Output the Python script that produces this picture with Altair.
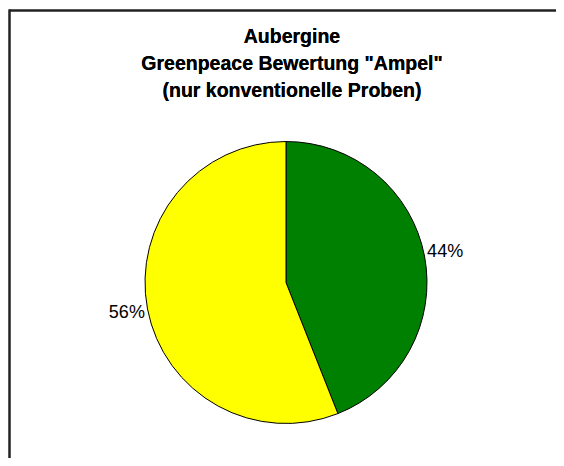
import altair as alt
import pandas as pd

# Data
kategorien = ["grün", "gelb"]
anteile = [44, 56]
farben = ["#008000", "#FFFF00"]
titel = ["Aubergine", 'Greenpeace Bewertung "Ampel"', "(nur konventionelle Proben)"]

df = pd.DataFrame({
    "kategorie": kategorien,
    "anteil": anteile,
    "label": [f"{v}%" for v in anteile],
    "reihenfolge": list(range(len(kategorien))),
})

FONT = "Liberation Sans"
CX, CY = 278, 274.5

base = alt.Chart(df).encode(
    theta=alt.Theta("anteil:Q", stack=True),
    order=alt.Order("reihenfolge:Q"),
)

pie = base.mark_arc(radius=141, stroke="black", strokeWidth=1).encode(
    color=alt.Color("kategorie:N", scale=alt.Scale(domain=kategorien, range=farben), legend=None),
    x=alt.value(CX),
    y=alt.value(CY),
)

labels = base.mark_text(radius=162, fontSize=18, font=FONT, color="black",
                        align="center", baseline="middle").encode(
    text="label:N",
    x=alt.value(CX),
    y=alt.value(CY),
)

frame_top = alt.Chart(df).mark_rule(color="#222", strokeWidth=2).encode(
    x=alt.value(1.5), x2=alt.value(548), y=alt.value(2.5)
)
frame_left = alt.Chart(df).mark_rule(color="#222", strokeWidth=2).encode(
    x=alt.value(1.5), y=alt.value(1.5), y2=alt.value(450)
)

title = alt.Chart(df).mark_text(
    fontSize=19.5, font=FONT, fontWeight="bold", align="center",
    baseline="alphabetic", lineHeight=26.7, color="black",
).encode(
    text=alt.value(titel), x=alt.value(284), y=alt.value(35.3)
)

chart = alt.layer(frame_top, frame_left, pie, labels, title).properties(
    width=548, height=450,
    autosize=alt.AutoSizeParams(type="none"),
    padding=0,
).configure_view(stroke=None)

chart.save("out.html", embed_options={"renderer": "svg", "actions": False})
